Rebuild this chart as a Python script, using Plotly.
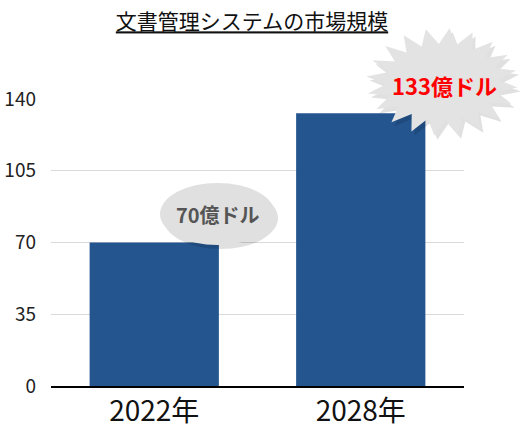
import numpy as np
import plotly.graph_objects as go

categories = ["2022年", "2028年"]
values = [70, 133]
y_ticks = [0, 35, 70, 105, 140]
title_text = "文書管理システムの市場規模"
unit = "億ドル"

W, H = 528, 429
ML, MR, MT, MB = 51, 64, 99, 43
PW, PH = W - ML - MR, H - MT - MB
FONT = "Noto Sans CJK JP"


def px(x):
    return (x - ML) / PW


def py(y):
    return (H - MB - y) / PH


def star_path(cx, cy, rx_o, ry_o, rx_i, ry_i, n, rot=0.0):
    pts = []
    for k in range(2 * n):
        a = rot + np.pi * k / n
        if k % 2 == 0:
            x, y = cx + rx_o * np.cos(a), cy + ry_o * np.sin(a)
        else:
            x, y = cx + rx_i * np.cos(a), cy + ry_i * np.sin(a)
        pts.append((px(x), py(y)))
    d = "M " + " L ".join(f"{a:.5f},{b:.5f}" for a, b in pts) + " Z"
    return d


fig = go.Figure()
fig.add_trace(go.Bar(
    x=categories, y=values, marker_color="#24558f",
    marker_line_width=0, hoverinfo="skip",
))

shapes = []
# ellipse label with shadow
ex0, ex1, ey0, ey1 = 160, 275, 183, 245
shapes.append(dict(type="circle", xref="paper", yref="paper",
                   x0=px(ex0 + 3), x1=px(ex1 + 3), y0=py(ey1 + 4), y1=py(ey0 + 4),
                   fillcolor="rgba(0,0,0,0.12)", line_width=0, layer="above"))
shapes.append(dict(type="circle", xref="paper", yref="paper",
                   x0=px(ex0), x1=px(ex1), y0=py(ey1), y1=py(ey0),
                   fillcolor="#e0e0e0", line_width=0, layer="above"))
# starburst with shadow
scx, scy = 442, 82
shapes.append(dict(type="path", xref="paper", yref="paper",
                   path=star_path(scx + 3, scy + 4, 76, 54, 56, 38, 20, 0.1),
                   fillcolor="rgba(0,0,0,0.12)", line_width=0, layer="above"))
shapes.append(dict(type="path", xref="paper", yref="paper",
                   path=star_path(scx, scy, 76, 54, 56, 38, 20, 0.1),
                   fillcolor="#e3e3e3", line_width=0, layer="above"))

annotations = [
    dict(xref="paper", yref="paper", x=px((ex0 + ex1) / 2), y=py((ey0 + ey1) / 2),
         text=f"<b>{values[0]}{unit}</b>", showarrow=False,
         font=dict(family=FONT, size=20, color="#555555"),
         xanchor="center", yanchor="middle"),
    dict(xref="paper", yref="paper", x=px(scx + 2), y=py(scy + 3),
         text=f"<b>{values[1]}{unit}</b>", showarrow=False,
         font=dict(family=FONT, size=22, color="#ff0000"),
         xanchor="center", yanchor="middle"),
]

fig.update_layout(
    width=W, height=H,
    margin=dict(l=ML, r=MR, t=MT, b=MB, autoexpand=False),
    paper_bgcolor="white", plot_bgcolor="white",
    showlegend=False,
    bargap=0.374,
    title=dict(text=title_text, x=252 / W, xanchor="center",
               y=1 - 22 / H, yanchor="middle", xref="container", yref="container",
               font=dict(family=FONT, size=21, color="#111111", lineposition="under")),
    shapes=shapes,
    annotations=annotations,
    xaxis=dict(showline=True, linecolor="#000000", linewidth=1.5, automargin=False,
               tickfont=dict(family=FONT, size=28, color="#111111"),
               ticks="", showgrid=False),
    yaxis=dict(range=[0, 140], tickvals=y_ticks, showgrid=True, automargin=False,
               gridcolor="#d9d9d9", gridwidth=1, zeroline=False,
               showline=False, ticks="", ticklabelstandoff=14,
               tickfont=dict(family=FONT, size=19, color="#222222")),
)

fig.write_html("out.html", config={"displayModeBar": False},
               post_script="document.body.style.margin='0';")
